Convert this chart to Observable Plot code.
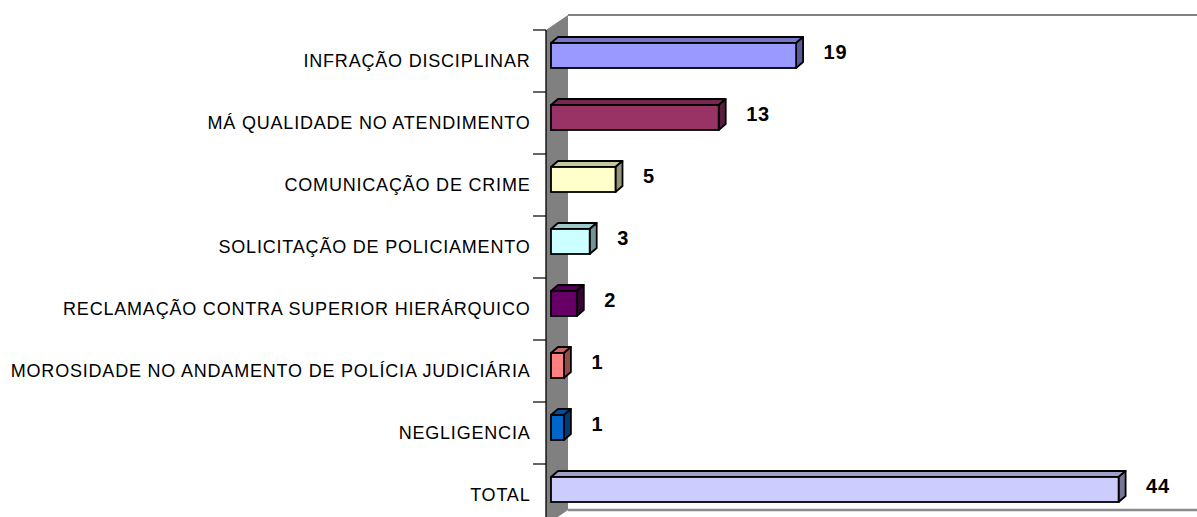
<!DOCTYPE html>
<html>
<head>
<meta charset="utf-8">
<script src="https://cdn.jsdelivr.net/npm/d3@7"></script>
<script src="https://cdn.jsdelivr.net/npm/@observablehq/plot@0.6"></script>
<style>
  html, body { margin: 0; padding: 0; background: white; }
</style>
</head>
<body>
<div id="chart"></div>
<script>
const categories = [
  "INFRAÇÃO DISCIPLINAR",
  "MÁ QUALIDADE NO ATENDIMENTO",
  "COMUNICAÇÃO DE CRIME",
  "SOLICITAÇÃO DE POLICIAMENTO",
  "RECLAMAÇÃO CONTRA SUPERIOR HIERÁRQUICO",
  "MOROSIDADE NO ANDAMENTO DE POLÍCIA JUDICIÁRIA",
  "NEGLIGENCIA",
  "TOTAL"
];
const values = [19, 13, 5, 3, 2, 1, 1, 44];
const colors = ["#9999FF", "#993366", "#FFFFCC", "#CCFFFF", "#660066", "#FF8080", "#0066CC", "#CCCCFF"];

const data = categories.map((c, i) => ({category: c, value: values[i], color: colors[i]}));
const darken = (c, t) => d3.interpolateRgb(c, "#000")(t);

const W = 1197, H = 517;
const NS = "http://www.w3.org/2000/svg";
function el(tag, attrs) {
  const e = document.createElementNS(NS, tag);
  for (const k in attrs) e.setAttribute(k, attrs[k]);
  return e;
}

// 3D wall, floor, axis line and category boundary ticks (positions from Plot scales)
function wall(index, scales) {
  const g = el("g", {});
  const step = scales.y(categories[1]) - scales.y(categories[0]);
  const x0 = scales.x(0) - 5;
  const yTop = scales.y(categories[0]);
  const yBot = scales.y(categories[categories.length - 1]) + step - 1;
  const DX = 22, DY = -15;
  g.appendChild(el("polygon", {
    points: `${x0},${yTop} ${x0 + DX},${yTop + DY} ${x0 + DX},${yBot + DY} ${x0},${yBot}`,
    fill: "#808080"
  }));
  g.appendChild(el("line", {x1: x0 + DX, y1: yTop + DY, x2: W, y2: yTop + DY, stroke: "#808080", "stroke-width": 2}));
  g.appendChild(el("line", {x1: x0 + DX, y1: yBot + DY, x2: W, y2: yBot + DY, stroke: "#8c8c8c", "stroke-width": 2.5}));
  g.appendChild(el("line", {x1: x0, y1: yTop, x2: x0, y2: yBot, stroke: "#000", "stroke-width": 1.3}));
  for (let i = 0; i < categories.length; i++) {
    const y = scales.y(categories[i]);
    g.appendChild(el("line", {x1: x0 - 13, y1: y, x2: x0, y2: y, stroke: "#000", "stroke-width": 1.2}));
  }
  return g;
}

// top and side faces of the 3D bars
function faces(index, scales) {
  const g = el("g", {stroke: "#000", "stroke-width": 1.8, "stroke-linejoin": "round"});
  const dx = 7, dy = -6;
  data.forEach(d => {
    const xl = scales.x(0), xr = scales.x(d.value);
    const yt = scales.y(d.category) + 13, yb = yt + 25;
    g.appendChild(el("polygon", {
      points: `${xl},${yt} ${xl + dx},${yt + dy} ${xr + dx},${yt + dy} ${xr},${yt}`,
      fill: darken(d.color, 0.22)
    }));
    g.appendChild(el("polygon", {
      points: `${xr},${yt} ${xr + dx},${yt + dy} ${xr + dx},${yb + dy} ${xr},${yb}`,
      fill: darken(d.color, 0.42)
    }));
  });
  return g;
}

const chart = Plot.plot({
  width: W,
  height: H,
  marginLeft: 551,
  marginRight: 1,
  marginTop: 30,
  marginBottom: 0,
  style: {fontFamily: "'Liberation Sans', Arial, sans-serif", background: "white", color: "#000"},
  x: {domain: [0, 50], range: [551, 1196], axis: null},
  y: {domain: categories, range: [30, 526], padding: 0, axis: null},
  color: {type: "identity"},
  marks: [
    wall,
    faces,
    Plot.barX(data, {x: "value", y: "category", fill: "color", stroke: "#000", strokeWidth: 1.8, insetTop: 13, insetBottom: 24}),
    Plot.text(data, {x: "value", y: "category", text: d => String(d.value), dx: 27, dy: -9, textAnchor: "start", fontWeight: "bold", fontSize: 20, fill: "#000"}),
    Plot.axisY({anchor: "left", label: null, tickSize: 0, tickPadding: 21, fontSize: 18, color: "#000"})
  ]
});

d3.select(chart).selectAll('[aria-label="y-axis tick label"] text').attr("letter-spacing", "0.8px");
d3.select(chart).selectAll('[aria-label="text"] text').attr("letter-spacing", "0.8px");
document.getElementById("chart").appendChild(chart);
</script>
</body>
</html>
